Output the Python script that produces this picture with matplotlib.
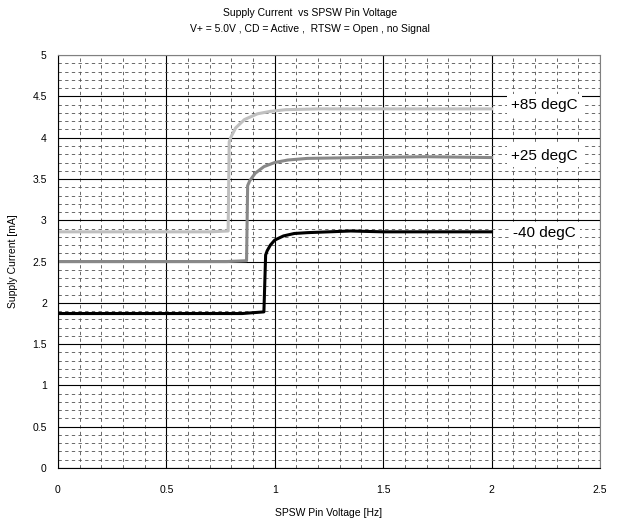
import numpy as np
import matplotlib
matplotlib.use("Agg")
import matplotlib.pyplot as plt
from matplotlib.ticker import MultipleLocator

plt.rcParams['font.family'] = ['Liberation Sans', 'DejaVu Sans']

x_85 = [0.0, 0.70, 0.785, 0.79, 0.80, 0.82, 0.86, 0.92, 0.98, 1.05, 1.20, 1.50, 2.0]
y_85 = [2.86, 2.86, 2.87, 3.95, 4.02, 4.12, 4.22, 4.29, 4.32, 4.34, 4.35, 4.35, 4.35]

x_25 = [0.0, 0.78, 0.87, 0.875, 0.885, 0.91, 0.95, 1.00, 1.06, 1.15, 1.40, 1.70, 2.0]
y_25 = [2.50, 2.50, 2.51, 3.42, 3.48, 3.57, 3.65, 3.70, 3.73, 3.75, 3.76, 3.77, 3.76]

x_m40 = [0.0, 0.85, 0.95, 0.958, 0.965, 0.98, 1.00, 1.04, 1.09, 1.15, 1.25, 1.35, 1.50, 2.0]
y_m40 = [1.87, 1.87, 1.89, 2.58, 2.63, 2.70, 2.76, 2.81, 2.84, 2.85, 2.86, 2.87, 2.86, 2.86]

labels = ['+85 degC', '+25 degC', '-40 degC']
label_y = [4.40, 3.78, 2.85]

fig = plt.figure(figsize=(6.23, 5.21), dpi=100)
ax = fig.add_axes([0.093, 0.102, 0.870, 0.792])

ax.plot(x_85, y_85, color='#c0c0c0', lw=2.2)
ax.plot(x_25, y_25, color='#888888', lw=2.2)
ax.plot(x_m40, y_m40, color='#000000', lw=2.2)

for lab, ly in zip(labels, label_y):
    ax.text(2.245, ly, lab, fontsize=11, ha='center', va='center',
            bbox=dict(facecolor='white', edgecolor='none', pad=3))

ax.set_xlim(0, 2.5)
ax.set_ylim(0, 5)
ax.xaxis.set_minor_locator(MultipleLocator(0.1))
ax.yaxis.set_minor_locator(MultipleLocator(0.1))
ax.set_xticks(np.arange(0, 2.51, 0.5))
ax.set_xticklabels(['0', '0.5', '1', '1.5', '2', '2.5'])
ax.set_yticks(np.arange(0, 5.01, 0.5))
ax.set_yticklabels(['0', '0.5', '1', '1.5', '2', '2.5', '3', '3.5', '4', '4.5', '5'])

ax.grid(which='major', color='black', lw=0.8)
ax.grid(which='minor', color='#505050', lw=0.6, linestyle=(0, (4, 4)))
ax.set_axisbelow(True)
ax.tick_params(which='both', length=0, labelsize=7.5, pad=12)
ax.tick_params(axis='y', pad=8)

for s in ['top', 'right']:
    ax.spines[s].set_color('#808080')
for s in ['left', 'bottom']:
    ax.spines[s].set_color('black')

ax.set_xlabel('SPSW Pin Voltage [Hz]', fontsize=7.5, labelpad=10)
ax.set_ylabel('Supply Current [mA]', fontsize=7.5, labelpad=10)

fig.text(0.498, 0.975, 'Supply Current  vs SPSW Pin Voltage', ha='center', va='center', fontsize=7.5)
fig.text(0.498, 0.945, 'V+ = 5.0V , CD = Active ,  RTSW = Open , no Signal', ha='center', va='center', fontsize=7.5)

fig.savefig('out.png', dpi=100)
